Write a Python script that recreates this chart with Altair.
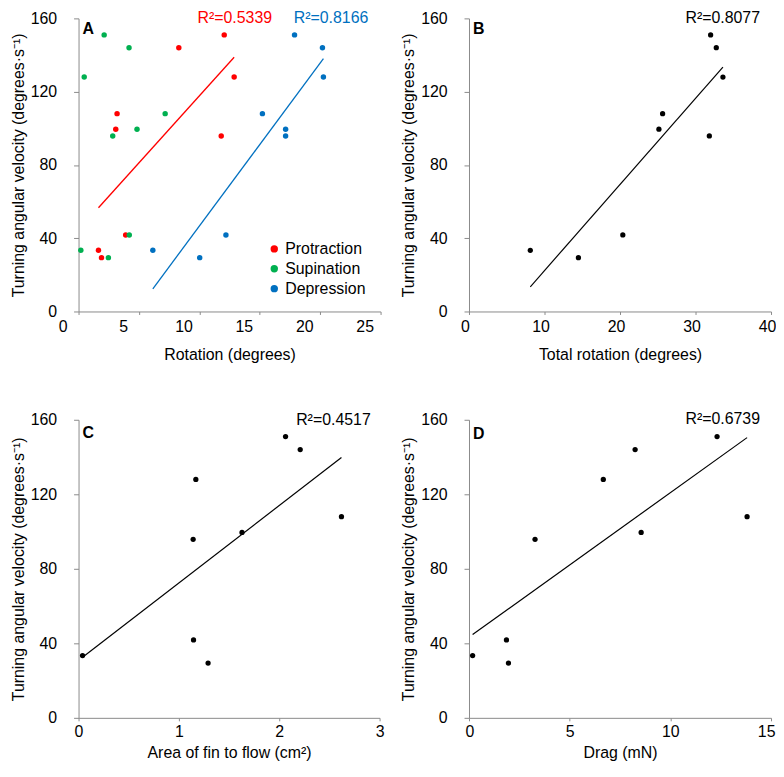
import altair as alt
import pandas as pd

# ---------------- data ----------------
velocity = [151.0, 144.0, 128.0, 108.0, 99.5, 95.8, 41.8, 33.4, 29.4]
protraction = [12.06, 8.30, 12.88, 3.19, 3.08, 11.81, 3.90, 1.65, 1.90]
supination = [2.12, 4.18, 0.47, 7.17, 4.84, 2.83, 4.20, 0.19, 2.47]
depression = [17.88, 20.19, 20.27, 15.22, 17.14, 17.14, 12.20, 6.15, 10.03]
total_rotation = [32.0, 32.75, 33.63, 25.64, 25.15, 31.83, 20.37, 8.12, 14.49]
fin_area = [2.063, 2.209, 1.169, 2.62, 1.629, 1.142, 1.146, 0.040, 1.291]
drag = [12.32, 8.25, 6.67, 13.81, 8.55, 3.28, 1.86, 0.18, 1.96]

movements = ["Protraction", "Supination", "Depression"]
movement_colors = ["#ff0000", "#00b050", "#0070c0"]
fitted_movements = ["Protraction", "Depression"]
r2_labels = {"A_red": "R²=0.5339", "A_blue": "R²=0.8166", "B": "R²=0.8077",
             "C": "R²=0.4517", "D": "R²=0.6739"}
y_ticks = [0, 40, 80, 120, 160]
x_ticks_A = [0, 5, 10, 15, 20, 25]
x_ticks_B = [0, 10, 20, 30, 40]
x_ticks_C = [0, 1, 2, 3]
x_ticks_D = [0, 5, 10, 15]

Y_TITLE = "Turning angular velocity (degrees·s⁻¹)"
FONT = "Liberation Sans"
GRAY = "#8a8a8a"

TOP_H = 295
BOT_H = 300


def y_enc():
    return alt.Y("velocity:Q",
                 scale=alt.Scale(domain=[0, 160], nice=False, zero=True),
                 axis=alt.Axis(title=Y_TITLE, values=y_ticks, tickSize=5,
                               labelPadding=17, titlePadding=4,
                               labelFlush=False, labelOverlap=False))


def x_enc(field, title, dom, vals, offset, top_row, flush=False):
    return alt.X(f"{field}:Q",
                 scale=alt.Scale(domain=dom, nice=False, zero=True),
                 axis=alt.Axis(title=title, values=vals, tickSize=3, format="d",
                               labelPadding=4 if top_row else 3,
                               titlePadding=12 if top_row else 5,
                               labelFlush=flush, labelFlushOffset=4 if flush else 0,
                               labelOverlap=False, labelOffset=offset))


def letter_layer(letter, dy):
    return alt.Chart(pd.DataFrame({"t": [letter]})).mark_text(
        align="left", baseline="middle", dx=4, dy=dy, fontSize=16,
        fontWeight="bold", color="black").encode(
        x=alt.datum(0), y=alt.datum(160), text="t:N")


def r2_layer(label, xpos, color, dy):
    return alt.Chart(pd.DataFrame({"t": [label]})).mark_text(
        align="center", baseline="middle", dy=dy, fontSize=16,
        color=color).encode(x=alt.datum(xpos), y=alt.datum(160), text="t:N")


# ---------------- panel A ----------------
dfA = pd.DataFrame({
    "movement": [m for m in movements for _ in velocity],
    "rotation": protraction + supination + depression,
    "velocity": velocity * 3,
})
color_scale = alt.Scale(domain=movements, range=movement_colors)
legendA = alt.Legend(orient="none", legendX=189, legendY=224,
                     title=None, labelFontSize=16, labelFont=FONT,
                     symbolSize=55, symbolType="circle",
                     rowPadding=4, padding=0, labelOffset=3,
                     symbolStrokeWidth=0, labelColor="black")

ptsA = alt.Chart(dfA).mark_circle(size=30, opacity=1).encode(
    x=x_enc("rotation", "Rotation (degrees)", [0, 25], x_ticks_A, -16, True),
    y=y_enc(),
    color=alt.Color("movement:N", scale=color_scale, legend=legendA),
)
lineA = alt.Chart(dfA).transform_filter(
    alt.FieldOneOfPredicate(field="movement", oneOf=fitted_movements)
).transform_regression(
    "rotation", "velocity", groupby=["movement"]).mark_line(strokeWidth=1.3).encode(
    x="rotation:Q", y="velocity:Q",
    color=alt.Color("movement:N", scale=color_scale, legend=legendA))

panelA = alt.layer(
    lineA, ptsA, letter_layer("A", 11),
    r2_layer(r2_labels["A_red"], 12.93, movement_colors[0], 0),
    r2_layer(r2_labels["A_blue"], 20.9, movement_colors[2], 0),
).properties(width=304, height=TOP_H)


# ---------------- generic black panels ----------------
def black_panel(xvals, field, title, dom, ticks, offset, letter, r2, r2x, w, h,
                letter_dy, r2_dy, top_row, flush=False):
    df = pd.DataFrame({field: xvals, "velocity": velocity})
    pts = alt.Chart(df).mark_circle(size=28, opacity=1, color="black").encode(
        x=x_enc(field, title, dom, ticks, offset, top_row, flush), y=y_enc())
    line = alt.Chart(df).transform_regression(field, "velocity").mark_line(
        strokeWidth=1.2, color="black").encode(
        x=f"{field}:Q", y="velocity:Q")
    return alt.layer(line, pts, letter_layer(letter, letter_dy),
                     r2_layer(r2, r2x, "black", r2_dy)).properties(width=w, height=h)


panelB = black_panel(total_rotation, "total", "Total rotation (degrees)", [0, 40],
                     x_ticks_B, -4, "B", r2_labels["B"], 33.6, 304, TOP_H, 11, 0,
                     True)
panelC = black_panel(fin_area, "area", "Area of fin to flow (cm²)", [0, 3],
                     x_ticks_C, 0, "C", r2_labels["C"], 2.54, 303, BOT_H, 13, 0,
                     False)
panelD = black_panel(drag, "drag", "Drag (mN)", [0, 15],
                     x_ticks_D, 0, "D", r2_labels["D"], 12.6, 304, BOT_H, 14, -1,
                     False, flush=True)

chart = alt.concat(panelA, panelB, panelC, panelD, columns=2,
                   spacing={"row": 49, "column": 16}).resolve_scale(
    color="independent").resolve_legend(color="independent").properties(
    padding={"left": 2, "top": 0, "right": 0, "bottom": 0}
).configure(font=FONT).configure_axis(
    domainColor=GRAY, tickColor=GRAY, labelColor="black", titleColor="black",
    labelFontSize=16, titleFontSize=16, titleFontWeight="normal", grid=False,
    labelFont=FONT, titleFont=FONT,
).configure_view(stroke=None).configure_text(font=FONT)

chart.save("out.html", embed_options={"renderer": "svg", "actions": False})
